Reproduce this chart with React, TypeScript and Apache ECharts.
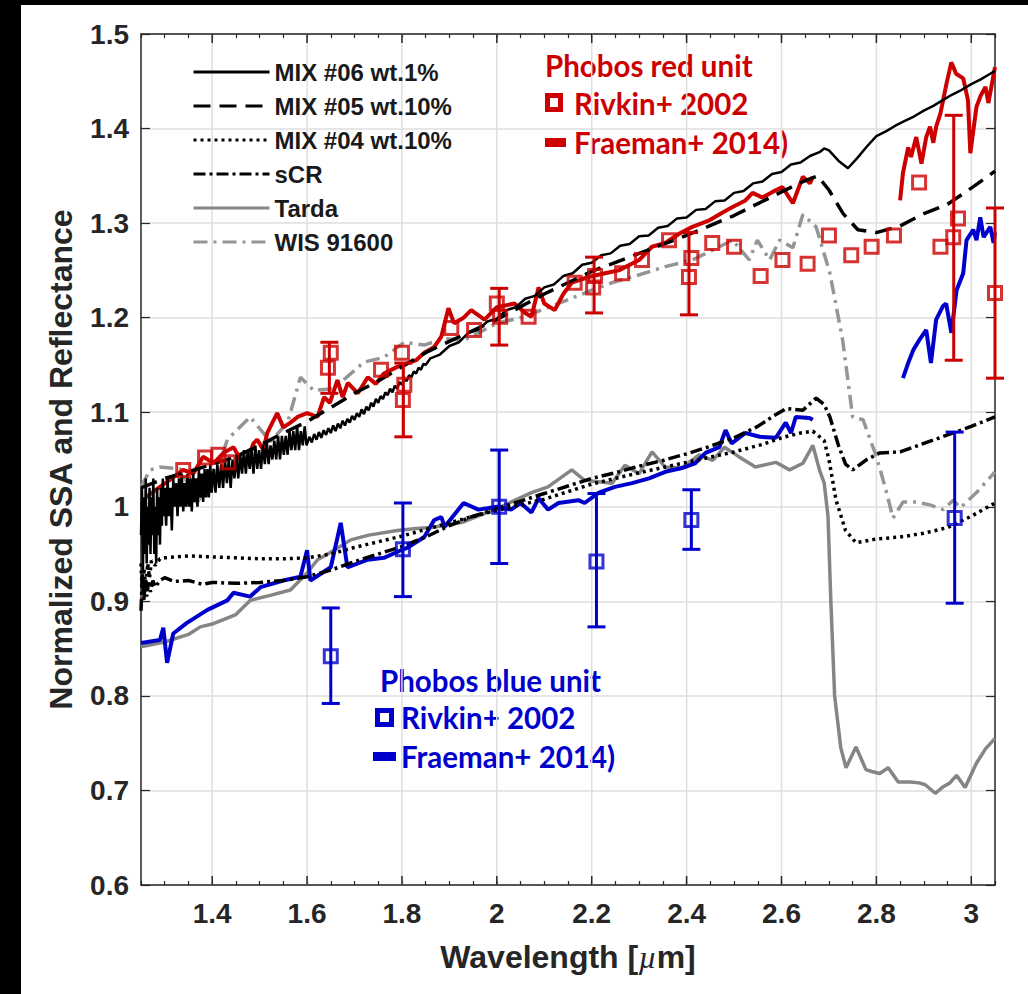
import React, { useEffect, useRef } from "react";
import * as echarts from "echarts";

const X_MIN = 1.25;
const X_MAX = 3.05;
const Y_MIN = 0.6;
const Y_MAX = 1.5;
const xMajorTicks = [1.4, 1.6, 1.8, 2.0, 2.2, 2.4, 2.6, 2.8, 3.0];

const RED = "#cc0000";
const BLUE = "#0000cc";
const AXIS = "#262626";

const mix06: [number, number][] = [
  [1.250,0.97],[1.252,1.02],[1.254,0.93],[1.256,1.01],[1.258,0.95],[1.260,1.03],[1.262,0.94],[1.264,1.00],[1.266,0.96],[1.268,1.02],
  [1.270,0.95],[1.272,1.01],[1.274,0.97],[1.276,1.03],[1.278,0.95],[1.280,1.00],[1.282,0.94],[1.284,1.02],[1.286,0.97],[1.288,1.01],
  [1.290,0.96],[1.292,1.02],[1.294,0.98],[1.296,1.03],[1.298,0.99],[1.300,1.02],
  [1.303,0.98],[1.306,1.03],[1.309,0.99],[1.312,1.02],[1.315,0.975],[1.318,1.03],[1.321,1.00],[1.324,1.025],[1.327,0.99],[1.330,1.03],
  [1.333,1.00],[1.336,1.035],[1.339,0.995],[1.342,1.025],[1.345,1.00],[1.348,1.035],[1.351,1.00],[1.354,1.03],[1.357,0.995],[1.360,1.035],
  [1.363,1.005],[1.366,1.03],[1.369,1.00],[1.372,1.04],[1.375,1.01],[1.378,1.035],[1.381,1.005],[1.384,1.04],[1.387,1.01],[1.390,1.04],
  [1.393,1.01],[1.396,1.045],[1.399,1.015],
  [1.403,1.04],[1.407,1.015],[1.411,1.045],[1.415,1.02],[1.419,1.045],[1.423,1.02],[1.427,1.05],[1.431,1.025],[1.435,1.05],[1.439,1.02],
  [1.443,1.05],[1.447,1.03],[1.451,1.055],[1.455,1.03],[1.459,1.055],[1.463,1.035],[1.467,1.06],[1.471,1.035],[1.475,1.06],[1.479,1.04],
  [1.483,1.06],[1.487,1.035],[1.491,1.065],[1.495,1.04],[1.499,1.06],[1.503,1.04],[1.507,1.065],[1.511,1.045],[1.515,1.07],[1.519,1.045],
  [1.523,1.065],[1.527,1.05],[1.531,1.07],[1.535,1.05],[1.539,1.075],[1.543,1.05],[1.547,1.075],[1.551,1.055],[1.555,1.075],[1.559,1.055],
  [1.563,1.08],[1.567,1.06],[1.571,1.08],[1.575,1.06],[1.579,1.085],[1.583,1.06],[1.587,1.08],[1.591,1.065],[1.595,1.085],[1.599,1.065],
  [1.605,1.074],[1.610,1.068],[1.615,1.077],[1.620,1.071],[1.625,1.079],[1.630,1.073],[1.635,1.081],[1.640,1.076],[1.645,1.083],[1.650,1.078],
  [1.655,1.086],[1.660,1.080],[1.665,1.088],[1.670,1.083],[1.675,1.091],[1.680,1.086],[1.685,1.093],[1.690,1.089],[1.695,1.096],[1.700,1.092],
  [1.705,1.099],[1.710,1.095],[1.715,1.103],[1.720,1.098],[1.725,1.106],[1.730,1.102],[1.735,1.110],[1.740,1.106],[1.745,1.114],[1.750,1.110],
  [1.755,1.117],[1.760,1.114],[1.765,1.121],[1.770,1.118],[1.775,1.125],[1.780,1.121],[1.785,1.128],[1.790,1.125],[1.795,1.132],[1.800,1.129],
  [1.805,1.135],[1.810,1.133],[1.815,1.139],[1.820,1.137],[1.825,1.143],[1.830,1.141],[1.835,1.147],[1.840,1.145],[1.845,1.151],[1.850,1.150],
  [1.86,1.157],[1.88,1.161],[1.90,1.170],[1.92,1.174],[1.94,1.184],[1.96,1.187],[1.98,1.196],[2.00,1.199],[2.02,1.208],[2.04,1.211],
  [2.06,1.220],[2.08,1.223],[2.10,1.232],[2.12,1.235],[2.14,1.244],[2.16,1.247],[2.18,1.256],[2.20,1.258],[2.22,1.266],[2.24,1.268],
  [2.26,1.276],[2.28,1.278],[2.30,1.286],[2.32,1.287],[2.34,1.295],[2.36,1.297],[2.38,1.305],[2.40,1.306],[2.42,1.314],[2.44,1.315],
  [2.46,1.323],[2.48,1.324],[2.50,1.332],[2.52,1.334],[2.54,1.342],[2.56,1.344],[2.58,1.352],[2.60,1.354],[2.62,1.362],[2.64,1.364],
  [2.66,1.371],[2.68,1.375],[2.69,1.379],[2.70,1.377],[2.72,1.366],[2.74,1.358],[2.76,1.369],[2.78,1.381],[2.80,1.392],[2.82,1.397],
  [2.84,1.403],[2.86,1.408],[2.88,1.413],[2.90,1.419],[2.92,1.424],[2.94,1.430],[2.96,1.436],[2.98,1.441],[3.00,1.447],[3.02,1.452],
  [3.04,1.458],[3.05,1.461]
];

const mix05: [number, number][] = [
  [1.25,1.020],[1.30,1.030],[1.35,1.037],[1.40,1.045],[1.45,1.053],[1.50,1.065],[1.55,1.078],[1.60,1.090],[1.65,1.105],[1.70,1.120],
  [1.75,1.133],[1.80,1.148],[1.85,1.163],[1.90,1.175],[2.00,1.198],[2.10,1.225],[2.20,1.249],[2.30,1.268],[2.40,1.287],[2.50,1.308],
  [2.60,1.333],[2.65,1.345],[2.676,1.350],[2.70,1.335],[2.73,1.310],[2.761,1.293],[2.80,1.290],[2.85,1.297],[2.90,1.310],[2.95,1.320],
  [3.00,1.337],[3.05,1.355]
];

const mix04: [number, number][] = [
  [1.250,0.940],[1.253,0.905],[1.256,0.935],[1.260,0.915],[1.264,0.940],[1.268,0.925],[1.272,0.943],[1.28,0.938],[1.29,0.945],[1.30,0.946],
  [1.35,0.948],[1.40,0.947],[1.45,0.946],[1.50,0.945],[1.55,0.945],[1.60,0.946],[1.65,0.950],[1.70,0.957],[1.75,0.963],[1.80,0.969],
  [1.85,0.976],[1.90,0.983],[1.95,0.990],[2.00,0.996],[2.10,1.008],[2.20,1.024],[2.30,1.036],[2.40,1.047],[2.50,1.058],[2.56,1.066],
  [2.60,1.073],[2.64,1.078],[2.666,1.080],[2.69,1.070],[2.70,1.050],[2.715,1.007],[2.735,0.975],[2.757,0.962],[2.80,0.966],[2.85,0.968],
  [2.90,0.972],[2.95,0.978],[3.00,0.990],[3.05,1.004]
];

const sCR: [number, number][] = [
  [1.250,0.890],[1.253,0.930],[1.256,0.900],[1.259,0.925],[1.262,0.905],[1.266,0.920],[1.270,0.910],[1.275,0.922],[1.28,0.915],[1.29,0.922],
  [1.30,0.925],[1.32,0.921],[1.35,0.922],[1.38,0.918],[1.40,0.920],[1.45,0.919],[1.50,0.920],[1.55,0.922],[1.60,0.926],[1.65,0.933],
  [1.70,0.942],[1.75,0.950],[1.80,0.958],[1.85,0.968],[1.90,0.980],[1.95,0.990],[2.00,0.998],[2.05,1.006],[2.10,1.014],[2.15,1.022],
  [2.20,1.030],[2.25,1.036],[2.30,1.043],[2.35,1.049],[2.40,1.056],[2.45,1.064],[2.50,1.073],[2.55,1.085],[2.58,1.095],[2.61,1.104],
  [2.645,1.102],[2.673,1.115],[2.69,1.108],[2.702,1.095],[2.72,1.065],[2.735,1.045],[2.75,1.039],[2.78,1.050],[2.807,1.057],[2.85,1.058],
  [2.90,1.067],[2.95,1.076],[3.00,1.085],[3.05,1.095]
];

const tarda: [number, number][] = [
  [1.25,0.852],[1.30,0.857],[1.35,0.865],[1.375,0.873],[1.40,0.876],[1.45,0.886],[1.48,0.901],[1.52,0.906],[1.565,0.912],[1.60,0.930],
  [1.622,0.944],[1.65,0.952],[1.692,0.965],[1.73,0.970],[1.79,0.975],[1.83,0.977],[1.862,0.978],[1.93,0.984],[2.00,0.998],[2.073,1.015],
  [2.108,1.021],[2.158,1.039],[2.185,1.028],[2.243,1.025],[2.27,1.044],[2.30,1.035],[2.327,1.058],[2.355,1.042],[2.39,1.041],[2.427,1.055],
  [2.455,1.049],[2.48,1.063],[2.51,1.053],[2.545,1.042],[2.588,1.047],[2.617,1.039],[2.645,1.046],[2.666,1.065],[2.68,1.039],[2.69,1.025],
  [2.698,0.990],[2.704,0.900],[2.712,0.800],[2.725,0.745],[2.736,0.724],[2.757,0.746],[2.778,0.722],[2.79,0.720],[2.807,0.718],[2.825,0.724],
  [2.846,0.709],[2.871,0.709],[2.89,0.708],[2.903,0.706],[2.924,0.697],[2.941,0.704],[2.955,0.708],[2.969,0.716],[2.987,0.703],[3.011,0.729],
  [3.03,0.744],[3.05,0.755]
];

const wis91600: [number, number][] = [
  [1.25,1.021],[1.269,1.039],[1.29,1.042],[1.333,1.040],[1.368,1.004],[1.375,1.010],[1.403,1.028],[1.432,1.071],[1.48,1.095],[1.523,1.069],
  [1.559,1.089],[1.586,1.137],[1.614,1.123],[1.656,1.125],[1.72,1.153],[1.762,1.158],[1.805,1.174],[1.847,1.171],[1.889,1.178],[1.93,1.176],
  [2.00,1.194],[2.058,1.201],[2.13,1.215],[2.20,1.229],[2.243,1.237],[2.285,1.243],[2.355,1.254],[2.412,1.261],[2.469,1.275],[2.497,1.282],
  [2.532,1.261],[2.549,1.282],[2.575,1.261],[2.596,1.282],[2.624,1.274],[2.645,1.309],[2.673,1.296],[2.702,1.247],[2.729,1.176],[2.75,1.095],
  [2.772,1.092],[2.80,1.053],[2.82,1.018],[2.835,0.988],[2.856,1.005],[2.884,1.005],[2.913,1.002],[2.941,0.997],[2.962,1.007],[2.977,0.999],
  [3.011,1.015],[3.05,1.037]
];

const fraemanRedA: [number, number][] = [
  [1.26,1.010],[1.29,1.021],[1.318,1.031],[1.339,1.039],[1.36,1.035],[1.381,1.053],[1.403,1.046],[1.424,1.057],[1.445,1.063],[1.46,1.050],
  [1.474,1.049],[1.487,1.067],[1.495,1.071],[1.508,1.060],[1.516,1.078],[1.537,1.099],[1.55,1.084],[1.565,1.089],[1.58,1.095],[1.60,1.099],
  [1.622,1.095],[1.636,1.116],[1.648,1.110],[1.664,1.134],[1.675,1.116],[1.686,1.131],[1.707,1.120],[1.728,1.137],[1.745,1.130],[1.762,1.141],
  [1.79,1.148],[1.813,1.152],[1.83,1.155],[1.847,1.163],[1.868,1.169],[1.883,1.180],[1.898,1.210],[1.91,1.194],[1.93,1.200],[1.946,1.208],
  [1.974,1.198],[2.00,1.211],[2.037,1.215],[2.06,1.205],[2.073,1.201],[2.088,1.232],[2.10,1.215],[2.122,1.208],[2.14,1.225],[2.158,1.237],
  [2.193,1.243],[2.228,1.247],[2.257,1.250],[2.30,1.261],[2.327,1.275],[2.355,1.279],[2.385,1.289],[2.412,1.296],[2.448,1.303],[2.475,1.311],
  [2.497,1.317],[2.524,1.324],[2.539,1.332],[2.56,1.327],[2.581,1.333],[2.602,1.338],[2.624,1.321],[2.645,1.349],[2.66,1.342],[2.666,1.349]
];

const fraemanRedB: [number, number][] = [
  [2.85,1.324],[2.856,1.353],[2.867,1.380],[2.873,1.370],[2.884,1.391],[2.895,1.363],[2.905,1.391],[2.913,1.402],[2.92,1.385],[2.926,1.402],
  [2.935,1.416],[2.948,1.448],[2.958,1.470],[2.968,1.458],[2.983,1.453],[2.993,1.430],[2.998,1.374],[3.011,1.423],[3.02,1.435],[3.03,1.444],
  [3.036,1.427],[3.05,1.465]
];

const fraemanBlueA: [number, number][] = [
  [1.25,0.856],[1.29,0.859],[1.297,0.872],[1.305,0.835],[1.318,0.866],[1.346,0.877],[1.39,0.891],[1.432,0.901],[1.445,0.909],[1.48,0.905],
  [1.502,0.915],[1.55,0.922],[1.586,0.926],[1.60,0.954],[1.607,0.922],[1.65,0.936],[1.671,0.983],[1.685,0.936],[1.728,0.944],[1.762,0.946],
  [1.798,0.954],[1.813,0.957],[1.847,0.968],[1.868,0.986],[1.883,0.989],[1.89,0.979],[1.93,1.004],[1.961,0.997],[2.00,1.000],[2.03,0.997],
  [2.05,1.004],[2.073,0.994],[2.088,1.009],[2.108,0.997],[2.13,1.004],[2.172,1.007],[2.185,1.004],[2.215,1.015],[2.249,1.021],[2.285,1.025],
  [2.321,1.030],[2.355,1.037],[2.39,1.041],[2.418,1.046],[2.44,1.057],[2.469,1.063],[2.482,1.081],[2.495,1.067],[2.524,1.078],[2.554,1.074],
  [2.588,1.073],[2.609,1.089],[2.62,1.078],[2.63,1.095],[2.659,1.094],[2.666,1.092]
];

const fraemanBlueB: [number, number][] = [
  [2.856,1.136],[2.867,1.152],[2.878,1.166],[2.89,1.176],[2.905,1.187],[2.915,1.152],[2.926,1.198],[2.94,1.212],[2.947,1.215],[2.958,1.184],
  [2.969,1.229],[2.983,1.247],[2.99,1.282],[3.004,1.293],[3.011,1.282],[3.019,1.306],[3.026,1.285],[3.04,1.296],[3.047,1.279],[3.05,1.290]
];

const rivkinRed: [number, number][] = [
  [1.339,1.039],[1.385,1.052],[1.413,1.055],[1.434,1.047],[1.644,1.147],[1.650,1.163],[1.756,1.145],[1.800,1.163],[1.805,1.129],[1.802,1.113],
  [1.904,1.189],[1.952,1.187],[2.000,1.215],[2.007,1.201],[2.067,1.201],[2.164,1.237],[2.207,1.244],[2.203,1.232],[2.264,1.247],[2.306,1.261],
  [2.363,1.282],[2.405,1.243],[2.410,1.263],[2.454,1.279],[2.500,1.275],[2.556,1.244],[2.602,1.261],[2.655,1.257],[2.700,1.287],[2.747,1.266],
  [2.790,1.275],[2.837,1.287],[2.890,1.343],[2.935,1.275],[2.962,1.285],[2.972,1.305],[3.050,1.226]
];

const rivkinRedErr: [number, number, number][] = [
  [1.647,1.120,1.174],[1.803,1.074,1.152],[2.005,1.171,1.231],[2.205,1.205,1.264],[2.405,1.203,1.290],[2.963,1.155,1.414],[3.050,1.136,1.316]
];

const rivkinBlue: [number, number][] = [
  [1.650,0.842],[1.802,0.955],[2.005,1.000],[2.210,0.942],[2.410,0.986],[2.965,0.988]
];

const rivkinBlueErr: [number, number, number][] = [
  [1.650,0.792,0.893],[1.802,0.905,1.004],[2.005,0.940,1.060],[2.210,0.873,1.014],[2.410,0.955,1.018],[2.965,0.898,1.079]
];

const legendNames = ["MIX #06 wt.1%", "MIX #05 wt.10%", "MIX #04 wt.10%", "sCR", "Tarda", "WIS 91600"];

function isMajor(v: number) {
  return Math.abs(v * 5 - Math.round(v * 5)) < 1e-6;
}

function lineSeries(name: string, data: [number, number][], color: string, width: number, type: any, z: number) {
  return {
    type: "line",
    name,
    data,
    symbol: "none",
    showSymbol: false,
    silent: true,
    z,
    lineStyle: { color, width, type },
    itemStyle: { color },
    emphasis: { disabled: true },
  };
}

function errRender(color: string) {
  return (params: any, api: any) => {
    const x = api.value(0);
    const lo = api.coord([x, api.value(1)]);
    const hi = api.coord([x, api.value(2)]);
    const cw = 9;
    const st = { stroke: color, lineWidth: 3 };
    return {
      type: "group",
      children: [
        { type: "line", shape: { x1: lo[0], y1: lo[1], x2: hi[0], y2: hi[1] }, style: st },
        { type: "line", shape: { x1: hi[0] - cw, y1: hi[1], x2: hi[0] + cw, y2: hi[1] }, style: st },
        { type: "line", shape: { x1: lo[0] - cw, y1: lo[1], x2: lo[0] + cw, y2: lo[1] }, style: st },
      ],
    };
  };
}

export default function App() {
  const ref = useRef<HTMLDivElement>(null);
  useEffect(() => {
    if (!ref.current) return;
    const chart = echarts.init(ref.current, null, { renderer: "svg" });
    const tickFont = { fontSize: 28, fontWeight: "bold", color: AXIS, fontFamily: "Liberation Sans" };
    const annFont = "bold 29.5px Lato";
    const option: any = {
      animation: false,
      backgroundColor: "#ffffff",
      grid: { left: 141, right: 33, top: 34, bottom: 109, containLabel: false },
      xAxis: [
        {
          type: "value", min: X_MIN, max: X_MAX, interval: 0.05, position: "bottom",
          axisLine: { show: true, onZero: false, lineStyle: { color: AXIS, width: 1.5 } },
          axisTick: { show: true, inside: true, length: 4, lineStyle: { color: AXIS, width: 1.2 } },
          axisLabel: {
            ...tickFont, margin: 14,
            formatter: (v: number) => (isMajor(v) ? String(Math.round(v * 10) / 10) : ""),
          },
          splitLine: { show: false },
          name: "Wavelength [{mu|\u00b5}m]",
          nameLocation: "middle",
          nameGap: 56,
          nameTextStyle: {
            fontSize: 32, fontWeight: "bold", color: AXIS, fontFamily: "Liberation Sans",
            rich: { mu: { fontSize: 32, fontStyle: "italic", fontWeight: "normal", color: AXIS, fontFamily: "Liberation Serif" } },
          },
        },
        {
          type: "value", min: X_MIN, max: X_MAX, interval: 0.05, position: "top",
          axisLine: { show: true, onZero: false, lineStyle: { color: AXIS, width: 1.5 } },
          axisTick: { show: true, inside: true, length: 4, lineStyle: { color: AXIS, width: 1.2 } },
          axisLabel: { show: false },
          splitLine: { show: false },
        },
      ],
      yAxis: [
        {
          type: "value", min: Y_MIN, max: Y_MAX, interval: 0.1, position: "left",
          axisLine: { show: true, onZero: false, lineStyle: { color: AXIS, width: 1.5 } },
          axisTick: { show: true, inside: true, length: 9, lineStyle: { color: AXIS, width: 1.2 } },
          axisLabel: { ...tickFont, margin: 12 },
          splitLine: { show: true, lineStyle: { color: "#dedede", width: 1.5 } },
          name: "Normalized SSA and Reflectance",
          nameLocation: "middle",
          nameGap: 64,
          nameTextStyle: { fontSize: 32, fontWeight: "bold", color: AXIS, fontFamily: "Liberation Sans" },
        },
        {
          type: "value", min: Y_MIN, max: Y_MAX, interval: 0.1, position: "right",
          axisLine: { show: true, onZero: false, lineStyle: { color: AXIS, width: 1.5 } },
          axisTick: { show: true, inside: true, length: 9, lineStyle: { color: AXIS, width: 1.2 } },
          axisLabel: { show: false },
          splitLine: { show: false },
        },
      ],
      legend: {
        data: legendNames,
        orient: "vertical",
        left: 192,
        top: 60,
        padding: 0,
        itemWidth: 76,
        itemHeight: 14,
        itemGap: 10,
        selectedMode: false,
        itemStyle: { opacity: 0, borderWidth: 0 },
        lineStyle: { width: 3 },
        textStyle: { fontSize: 24, fontWeight: "bold", color: "#1a1a1a", fontFamily: "Liberation Sans", lineHeight: 22 },
      },
      series: [
        {
          type: "custom",
          name: "xgrid",
          silent: true,
          z: 1,
          data: xMajorTicks.map((v) => [v, Y_MIN]),
          encode: { x: 0, y: 1 },
          renderItem: (params: any, api: any) => {
            const x = api.value(0);
            const b = api.coord([x, Y_MIN]);
            const t = api.coord([x, Y_MAX]);
            return {
              type: "group",
              children: [
                { type: "line", shape: { x1: b[0], y1: b[1], x2: t[0], y2: t[1] }, style: { stroke: "#dedede", lineWidth: 1.5 } },
                { type: "line", shape: { x1: b[0], y1: b[1], x2: b[0], y2: b[1] - 9 }, style: { stroke: AXIS, lineWidth: 1.5 } },
                { type: "line", shape: { x1: t[0], y1: t[1], x2: t[0], y2: t[1] + 9 }, style: { stroke: AXIS, lineWidth: 1.5 } },
              ],
            };
          },
        },
        lineSeries("Tarda", tarda, "#858585", 3.5, "solid", 2),
        lineSeries("WIS 91600", wis91600, "#959595", 3.5, [14, 6, 3, 6], 2),
        lineSeries("Fraeman red A", fraemanRedA, RED, 4, "solid", 3),
        lineSeries("Fraeman red B", fraemanRedB, RED, 4, "solid", 3),
        lineSeries("Fraeman blue A", fraemanBlueA, BLUE, 4, "solid", 3),
        lineSeries("Fraeman blue B", fraemanBlueB, BLUE, 4, "solid", 3),
        lineSeries("sCR", sCR, "#000000", 3.5, [12, 4, 3, 4], 4),
        lineSeries("MIX #04 wt.10%", mix04, "#000000", 3.5, [3, 4], 4),
        lineSeries("MIX #05 wt.10%", mix05, "#000000", 3.5, [17, 9], 4),
        lineSeries("MIX #06 wt.1%", mix06, "#000000", 2.5, "solid", 4),
        {
          type: "custom", name: "Rivkin red err", silent: true, z: 5,
          data: rivkinRedErr, encode: { x: 0, y: [1, 2] }, renderItem: errRender(RED),
        },
        {
          type: "custom", name: "Rivkin blue err", silent: true, z: 5,
          data: rivkinBlueErr, encode: { x: 0, y: [1, 2] }, renderItem: errRender(BLUE),
        },
        {
          type: "scatter", name: "Rivkin red", data: rivkinRed, symbol: "rect", symbolSize: 13, silent: true, z: 6,
          itemStyle: { color: "rgba(0,0,0,0)", borderColor: RED, borderWidth: 3 },
        },
        {
          type: "scatter", name: "Rivkin blue", data: rivkinBlue, symbol: "rect", symbolSize: 13, silent: true, z: 6,
          itemStyle: { color: "rgba(0,0,0,0)", borderColor: BLUE, borderWidth: 3 },
        },
      ],
      graphic: [
        { type: "rect", left: 0, top: 0, shape: { x: 0, y: 0, width: 1028, height: 5 }, style: { fill: "#000" }, silent: true },
        { type: "rect", left: 0, top: 0, shape: { x: 0, y: 0, width: 21, height: 994 }, style: { fill: "#000" }, silent: true },
        { type: "text", x: 545, y: 65, style: { text: "Phobos red unit", font: annFont, fill: RED, verticalAlign: "middle" } },
        { type: "rect", x: 0, y: 0, shape: { x: 547.5, y: 95.5, width: 13, height: 14 }, style: { fill: "none", stroke: RED, lineWidth: 5 } },
        { type: "text", x: 574, y: 103, style: { text: "Rivkin+ 2002", font: annFont, fill: RED, verticalAlign: "middle" } },
        { type: "rect", x: 0, y: 0, shape: { x: 545, y: 138, width: 21, height: 9 }, style: { fill: RED } },
        { type: "text", x: 574, y: 142, style: { text: "Fraeman+ 2014)", font: annFont, fill: RED, verticalAlign: "middle" } },
        { type: "text", x: 380, y: 680, style: { text: "Phobos blue unit", font: annFont, fill: BLUE, verticalAlign: "middle" } },
        { type: "rect", x: 0, y: 0, shape: { x: 377.5, y: 710.5, width: 14, height: 14 }, style: { fill: "none", stroke: BLUE, lineWidth: 5 } },
        { type: "text", x: 401, y: 717, style: { text: "Rivkin+ 2002", font: annFont, fill: BLUE, verticalAlign: "middle" } },
        { type: "rect", x: 0, y: 0, shape: { x: 373, y: 752, width: 23, height: 9 }, style: { fill: BLUE } },
        { type: "text", x: 401, y: 756, style: { text: "Fraeman+ 2014)", font: annFont, fill: BLUE, verticalAlign: "middle" } },
      ],
    };
    chart.setOption(option);
    return () => chart.dispose();
  }, []);
  return (
    <div
      ref={ref}
      style={{ position: "absolute", left: 0, top: 0, width: 1028, height: 994, background: "#fff" }}
    />
  );
}
